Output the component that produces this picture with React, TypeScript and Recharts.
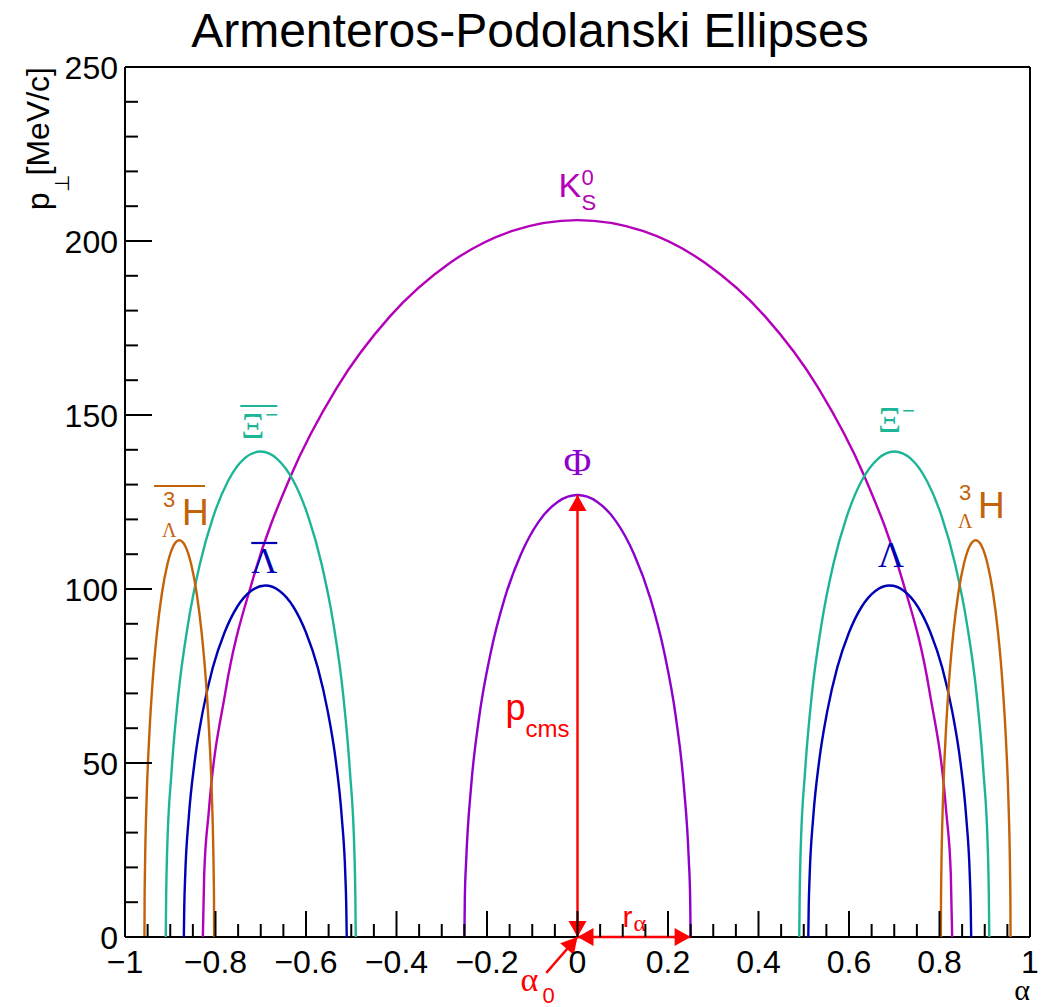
import { Line, LineChart, ReferenceDot, ReferenceLine, XAxis, YAxis } from "recharts";

const SANS = "'Liberation Sans', Arial, sans-serif";
const SERIF = "'Liberation Serif', 'DejaVu Serif', serif";
const RED = "#ff0000";
const K0S_COLOR = "#b400b8";
const PHI_COLOR = "#8e00cc";
const XI_COLOR = "#1db598";
const LAMBDA_COLOR = "#0000b4";
const HYPER_COLOR = "#c4620a";

// ellipse points (alpha, p_T in MeV/c)
const k0sAlpha = [-0.828, -0.825, -0.815, -0.778, -0.717, -0.634, -0.532, -0.414, -0.283, -0.144, 0, 0.144, 0.283, 0.414, 0.532, 0.634, 0.717, 0.778, 0.815, 0.825, 0.828];
const k0sPt = [0, 18, 35.8, 70.5, 103, 132.4, 157.8, 178.4, 193.6, 202.9, 206, 202.9, 193.6, 178.4, 157.8, 132.4, 103, 70.5, 35.8, 18, 0];

const phiAlpha = [-0.25, -0.249, -0.246, -0.235, -0.217, -0.192, -0.161, -0.125, -0.086, -0.043, 0, 0.043, 0.086, 0.125, 0.161, 0.192, 0.217, 0.235, 0.246, 0.249, 0.25];
const phiPt = [0, 11.1, 22, 43.4, 63.5, 81.6, 97.3, 110, 119.3, 125.1, 127, 125.1, 119.3, 110, 97.3, 81.6, 63.5, 43.4, 22, 11.1, 0];

const lambdaAlpha = [0.51, 0.511, 0.513, 0.521, 0.534, 0.552, 0.574, 0.6, 0.628, 0.659, 0.69, 0.721, 0.752, 0.78, 0.806, 0.828, 0.846, 0.859, 0.867, 0.869, 0.87];
const antiLambdaAlpha = [-0.87, -0.869, -0.867, -0.859, -0.846, -0.828, -0.806, -0.78, -0.752, -0.721, -0.69, -0.659, -0.628, -0.6, -0.574, -0.552, -0.534, -0.521, -0.513, -0.511, -0.51];
const lambdaPt = [0, 8.8, 17.5, 34.5, 50.5, 64.9, 77.4, 87.5, 94.9, 99.5, 101, 99.5, 94.9, 87.5, 77.4, 64.9, 50.5, 34.5, 17.5, 8.8, 0];

const xiAlpha = [0.49, 0.491, 0.493, 0.503, 0.518, 0.539, 0.565, 0.595, 0.628, 0.664, 0.7, 0.737, 0.772, 0.805, 0.835, 0.861, 0.882, 0.897, 0.907, 0.909, 0.91];
const antiXiAlpha = [-0.91, -0.909, -0.907, -0.897, -0.882, -0.861, -0.835, -0.805, -0.772, -0.737, -0.7, -0.664, -0.628, -0.595, -0.565, -0.539, -0.518, -0.503, -0.493, -0.491, -0.49];
const xiPt = [0, 12.2, 24.2, 47.7, 69.8, 89.7, 106.9, 120.8, 131.1, 137.4, 139.5, 137.4, 131.1, 120.8, 106.9, 89.7, 69.8, 47.7, 24.2, 12.2, 0];

const hyperAlpha = [0.803, 0.8033, 0.8042, 0.8076, 0.8133, 0.821, 0.8305, 0.8415, 0.8537, 0.8666, 0.88, 0.8934, 0.9063, 0.9185, 0.9295, 0.939, 0.9467, 0.9524, 0.9558, 0.9567, 0.957];
const antiHyperAlpha = [-0.957, -0.9567, -0.9558, -0.9524, -0.9467, -0.939, -0.9295, -0.9185, -0.9063, -0.8934, -0.88, -0.8666, -0.8537, -0.8415, -0.8305, -0.821, -0.8133, -0.8076, -0.8042, -0.8033, -0.803];
const hyperPt = [0, 9.9, 19.8, 39, 57, 73.3, 87.3, 98.7, 107.1, 112.3, 114, 112.3, 107.1, 98.7, 87.3, 73.3, 57, 39, 19.8, 9.9, 0];

// axis ticks
const xTicks = [-1, -0.95, -0.9, -0.85, -0.8, -0.75, -0.7, -0.65, -0.6, -0.55, -0.5, -0.45, -0.4, -0.35, -0.3, -0.25, -0.2, -0.15, -0.1, -0.05, 0, 0.05, 0.1, 0.15, 0.2, 0.25, 0.3, 0.35, 0.4, 0.45, 0.5, 0.55, 0.6, 0.65, 0.7, 0.75, 0.8, 0.85, 0.9, 0.95, 1];
const xMajorTicks = [-1, -0.8, -0.6, -0.4, -0.2, 0, 0.2, 0.4, 0.6, 0.8, 1];
const xTickLabels = ["\u22121", "\u22120.8", "\u22120.6", "\u22120.4", "\u22120.2", "0", "0.2", "0.4", "0.6", "0.8", "1"];
const yTicks = [0, 10, 20, 30, 40, 50, 60, 70, 80, 90, 100, 110, 120, 130, 140, 150, 160, 170, 180, 190, 200, 210, 220, 230, 240, 250];
const yMajorTicks = [0, 50, 100, 150, 200, 250];
const yTickLabels = ["0", "50", "100", "150", "200", "250"];

// the red construction arrows (phi ellipse)
const pcmsArrow = [{ x: 0, y: 0 }, { x: 0, y: 127 }];
const rAlphaArrow = [{ x: 0, y: 0 }, { x: 0.25, y: 0 }];
const alpha0Arrow = [{ x: -0.069, y: -10.3 }, { x: 0, y: 0 }];

const toPoints = (alpha: number[], pt: number[]) => alpha.map((a, i) => ({ a, pt: pt[i] }));

const curves = [
  { key: "k0s", color: K0S_COLOR, data: toPoints(k0sAlpha, k0sPt) },
  { key: "xiBar", color: XI_COLOR, data: toPoints(antiXiAlpha, xiPt) },
  { key: "xi", color: XI_COLOR, data: toPoints(xiAlpha, xiPt) },
  { key: "lambdaBar", color: LAMBDA_COLOR, data: toPoints(antiLambdaAlpha, lambdaPt) },
  { key: "lambda", color: LAMBDA_COLOR, data: toPoints(lambdaAlpha, lambdaPt) },
  { key: "hyperBar", color: HYPER_COLOR, data: toPoints(antiHyperAlpha, hyperPt) },
  { key: "hyper", color: HYPER_COLOR, data: toPoints(hyperAlpha, hyperPt) },
  { key: "phi", color: PHI_COLOR, data: toPoints(phiAlpha, phiPt) },
];

function XTick(props: any) {
  const { x, y, payload } = props;
  const i = xMajorTicks.indexOf(payload.value);
  const major = i >= 0;
  return (
    <g>
      <line x1={x} x2={x} y1={y} y2={y - (major ? 26 : 13)} stroke="#000" strokeWidth={2} />
      {major && (
        <text x={x} y={y + 36} textAnchor="middle" fontSize={32} fontFamily={SANS} fill="#000">
          {xTickLabels[i]}
        </text>
      )}
    </g>
  );
}

function YTick(props: any) {
  const { x, y, payload } = props;
  const i = yMajorTicks.indexOf(payload.value);
  const major = i >= 0;
  return (
    <g>
      <line x1={x} x2={x + (major ? 27 : 13)} y1={y} y2={y} stroke="#000" strokeWidth={2} />
      {major && (
        <text x={x - 7} y={y + 12} textAnchor="end" fontSize={32} fontFamily={SANS} fill="#000">
          {yTickLabels[i]}
        </text>
      )}
    </g>
  );
}

function arrowShape(startHead: boolean, endHead: boolean) {
  return (props: any) => {
    const { x1, y1, x2, y2 } = props;
    const ang = Math.atan2(y2 - y1, x2 - x1);
    const head = (tx: number, ty: number, a: number) => {
      const L = 16;
      const W = 9;
      const bx = tx - L * Math.cos(a);
      const by = ty - L * Math.sin(a);
      const px = -Math.sin(a) * W;
      const py = Math.cos(a) * W;
      return <polygon points={`${tx},${ty} ${bx + px},${by + py} ${bx - px},${by - py}`} fill={RED} />;
    };
    return (
      <g>
        <line x1={x1} y1={y1} x2={x2} y2={y2} stroke={RED} strokeWidth={2.4} />
        {startHead && head(x1, y1, ang + Math.PI)}
        {endHead && head(x2, y2, ang)}
      </g>
    );
  };
}

// label anchors (alpha, p_T) and how each label is drawn around it
const labels = [
  {
    key: "k0s", a: -0.042, pt: 212.6,
    draw: (cx: number, cy: number) => (
      <g fill={K0S_COLOR} fontFamily={SANS}>
        <text x={cx} y={cy} fontSize={34}>K</text>
        <text x={cx + 23} y={cy - 12} fontSize={22}>0</text>
        <text x={cx + 23} y={cy + 13} fontSize={22}>S</text>
      </g>
    ),
  },
  {
    key: "phi", a: 0, pt: 132.8,
    draw: (cx: number, cy: number) => (
      <text x={cx} y={cy} fontSize={38} fontFamily={SERIF} fill={PHI_COLOR} textAnchor="middle">Φ</text>
    ),
  },
  {
    key: "xiBar", a: -0.743, pt: 143.4,
    draw: (cx: number, cy: number) => (
      <g fill={XI_COLOR}>
        <line x1={cx - 1} x2={cx + 36} y1={cy - 32} y2={cy - 32} stroke={XI_COLOR} strokeWidth={2} />
        <text x={cx} y={cy} fontSize={36} fontFamily={SERIF}>Ξ</text>
        <text x={cx + 24} y={cy - 16} fontSize={22} fontFamily={SANS}>−</text>
      </g>
    ),
  },
  {
    key: "xi", a: 0.664, pt: 145.1,
    draw: (cx: number, cy: number) => (
      <g fill={XI_COLOR}>
        <text x={cx} y={cy} fontSize={36} fontFamily={SERIF}>Ξ</text>
        <text x={cx + 24} y={cy - 14} fontSize={22} fontFamily={SANS}>−</text>
      </g>
    ),
  },
  {
    key: "lambdaBar", a: -0.721, pt: 104.6,
    draw: (cx: number, cy: number) => (
      <g fill={LAMBDA_COLOR}>
        <line x1={cx} x2={cx + 26} y1={cy - 30} y2={cy - 30} stroke={LAMBDA_COLOR} strokeWidth={2.2} />
        <text x={cx} y={cy} fontSize={36} fontFamily={SERIF}>Λ</text>
      </g>
    ),
  },
  {
    key: "lambda", a: 0.664, pt: 106.3,
    draw: (cx: number, cy: number) => (
      <text x={cx} y={cy} fontSize={36} fontFamily={SERIF} fill={LAMBDA_COLOR}>Λ</text>
    ),
  },
  {
    key: "hyperBar", a: -0.874, pt: 118.4,
    draw: (cx: number, cy: number) => (
      <g fill={HYPER_COLOR}>
        <line x1={cx - 28} x2={cx + 23} y1={cy - 39} y2={cy - 39} stroke={HYPER_COLOR} strokeWidth={2} />
        <text x={cx - 19} y={cy - 18} fontSize={22} fontFamily={SANS}>3</text>
        <text x={cx - 20} y={cy + 12} fontSize={20} fontFamily={SERIF}>Λ</text>
        <text x={cx} y={cy} fontSize={37} fontFamily={SANS}>H</text>
      </g>
    ),
  },
  {
    key: "hyper", a: 0.885, pt: 120.4,
    draw: (cx: number, cy: number) => (
      <g fill={HYPER_COLOR}>
        <text x={cx - 19} y={cy - 18} fontSize={22} fontFamily={SANS}>3</text>
        <text x={cx - 20} y={cy + 10} fontSize={20} fontFamily={SERIF}>Λ</text>
        <text x={cx} y={cy} fontSize={37} fontFamily={SANS}>H</text>
      </g>
    ),
  },
  {
    key: "pcms", a: -0.159, pt: 62.4,
    draw: (cx: number, cy: number) => (
      <g fill={RED} fontFamily={SANS}>
        <text x={cx} y={cy} fontSize={36}>p</text>
        <text x={cx + 20} y={cy + 17} fontSize={24}>cms</text>
      </g>
    ),
  },
  {
    key: "ralpha", a: 0.0996, pt: 2.9,
    draw: (cx: number, cy: number) => (
      <g fill={RED}>
        <text x={cx} y={cy} fontSize={30} fontFamily={SANS}>r</text>
        <text x={cx + 11} y={cy + 4} fontSize={24} fontFamily={SERIF}>α</text>
      </g>
    ),
  },
  {
    key: "alpha0", a: -0.126, pt: -15.5,
    draw: (cx: number, cy: number) => (
      <g fill={RED}>
        <text x={cx} y={cy} fontSize={34} fontFamily={SERIF}>α</text>
        <text x={cx + 22} y={cy + 12} fontSize={22} fontFamily={SANS}>0</text>
      </g>
    ),
  },
];

export default function App() {
  return (
    <div style={{ position: "absolute", left: 0, top: 0, width: 1058, height: 1007, background: "#fff" }}>
      <LineChart width={1058} height={1007} margin={{ top: 67, right: 28, bottom: 60, left: 115 }}>
        <XAxis
          dataKey="a"
          type="number"
          domain={[-1, 1]}
          ticks={xTicks}
          interval={0}
          height={10}
          tickSize={0}
          tickMargin={0}
          tickLine={false}
          tick={XTick}
          axisLine={false}
        />
        <YAxis
          type="number"
          domain={[0, 250]}
          ticks={yTicks}
          interval={0}
          width={10}
          tickSize={0}
          tickMargin={0}
          tickLine={false}
          tick={YTick}
          axisLine={{ stroke: "#000", strokeWidth: 2 }}
        />
        <ReferenceLine y={0} stroke="#000" strokeWidth={2} />
        <ReferenceLine y={250} stroke="#000" strokeWidth={2} />
        <ReferenceLine x={1} stroke="#000" strokeWidth={2} />
        {curves.map((c) => (
          <Line
            key={c.key}
            data={c.data}
            dataKey="pt"
            type="monotone"
            stroke={c.color}
            strokeWidth={2.4}
            dot={false}
            activeDot={false}
            isAnimationActive={false}
          />
        ))}
        <ReferenceLine segment={pcmsArrow} ifOverflow="visible" shape={arrowShape(true, true)} />
        <ReferenceLine segment={rAlphaArrow} ifOverflow="visible" shape={arrowShape(true, true)} />
        <ReferenceLine segment={alpha0Arrow} ifOverflow="visible" shape={arrowShape(false, true)} />
        {labels.map((l) => (
          <ReferenceDot
            key={l.key}
            x={l.a}
            y={l.pt}
            r={0}
            ifOverflow="visible"
            shape={(p: any) => l.draw(p.cx, p.cy)}
          />
        ))}
      </LineChart>
      <svg
        width={1058}
        height={1007}
        style={{ position: "absolute", left: 0, top: 0, pointerEvents: "none" }}
      >
        <text x={530} y={47} textAnchor="middle" fontSize={48} fontFamily={SANS} fill="#000">
          Armenteros-Podolanski Ellipses
        </text>
        <text transform="translate(49,67) rotate(-90)" textAnchor="end" fontSize={32} fontFamily={SANS} fill="#000">
          <tspan>p</tspan>
          <tspan dy={20} fontSize={20}>⊥</tspan>
          <tspan dy={-20}>[MeV/c]</tspan>
        </text>
        <text x={1030} y={1000} textAnchor="end" fontSize={30} fontFamily={SERIF} fill="#000">
          α
        </text>
      </svg>
    </div>
  );
}
